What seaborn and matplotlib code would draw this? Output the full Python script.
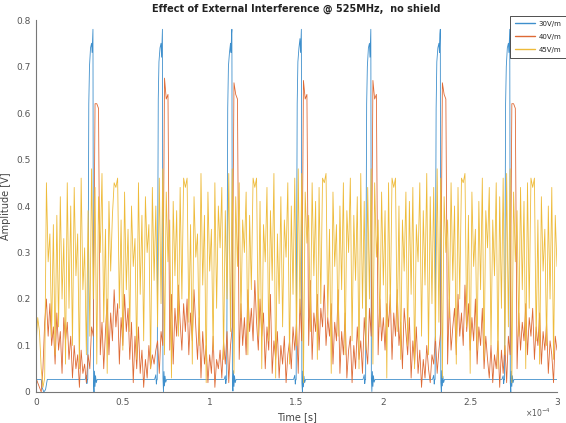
import numpy as np
import pandas as pd
import matplotlib
matplotlib.use("Agg")
import matplotlib.pyplot as plt
import seaborn as sns

# time in units of 1e-4 s
t_grid = np.linspace(0, 3, 301)

# 45 V/m trace
amp_45 = [
    0.10, 0.16, 0.13, 0.05, 0.01, 0.03, 0.45, 0.28, 0.34, 0.12,
    0.36, 0.08, 0.38, 0.14, 0.42, 0.20, 0.33, 0.06, 0.45, 0.18,
    0.40, 0.10, 0.44, 0.25, 0.34, 0.05, 0.46, 0.22, 0.31, 0.08,
    0.39, 0.12, 0.48, 0.20, 0.44, 0.06, 0.42, 0.30, 0.47, 0.15,
    0.35, 0.04, 0.41, 0.26, 0.38, 0.45, 0.44, 0.46, 0.18, 0.37,
    0.09, 0.43, 0.22, 0.35, 0.13, 0.40, 0.27, 0.33, 0.07, 0.45,
    0.21, 0.38, 0.11, 0.42, 0.30, 0.36, 0.05, 0.44, 0.24, 0.40,
    0.14, 0.46, 0.19, 0.48, 0.08, 0.43, 0.28, 0.37, 0.03, 0.41,
    0.25, 0.39, 0.12, 0.44, 0.20, 0.46, 0.44, 0.46, 0.15, 0.36,
    0.06, 0.42, 0.29, 0.34, 0.10, 0.47, 0.23, 0.38, 0.02, 0.43,
    0.26, 0.35, 0.09, 0.45, 0.18, 0.40, 0.31, 0.44, 0.07, 0.39,
    0.20, 0.47, 0.13, 0.48, 0.04, 0.42, 0.27, 0.45, 0.16, 0.37,
    0.30, 0.43, 0.08, 0.38, 0.22, 0.46, 0.44, 0.46, 0.12, 0.41,
    0.05, 0.36, 0.28, 0.44, 0.11, 0.39, 0.24, 0.47, 0.03, 0.34,
    0.19, 0.42, 0.14, 0.37, 0.29, 0.45, 0.06, 0.40, 0.21, 0.46,
    0.10, 0.48, 0.17, 0.47, 0.02, 0.43, 0.32, 0.38, 0.13, 0.45,
    0.25, 0.41, 0.07, 0.44, 0.19, 0.46, 0.45, 0.47, 0.16, 0.35,
    0.04, 0.43, 0.27, 0.36, 0.12, 0.40, 0.22, 0.45, 0.08, 0.39,
    0.30, 0.46, 0.11, 0.38, 0.24, 0.42, 0.05, 0.47, 0.18, 0.41,
    0.09, 0.44, 0.20, 0.48, 0.06, 0.45, 0.29, 0.37, 0.14, 0.43,
    0.23, 0.39, 0.03, 0.45, 0.17, 0.46, 0.44, 0.46, 0.13, 0.40,
    0.07, 0.37, 0.26, 0.43, 0.10, 0.41, 0.21, 0.44, 0.05, 0.36,
    0.28, 0.45, 0.12, 0.39, 0.23, 0.47, 0.08, 0.42, 0.19, 0.44,
    0.11, 0.48, 0.15, 0.46, 0.03, 0.42, 0.30, 0.37, 0.16, 0.45,
    0.24, 0.40, 0.06, 0.44, 0.20, 0.46, 0.45, 0.47, 0.14, 0.38,
    0.04, 0.43, 0.27, 0.35, 0.09, 0.41, 0.22, 0.46, 0.07, 0.39,
    0.31, 0.44, 0.10, 0.37, 0.25, 0.45, 0.05, 0.42, 0.18, 0.46,
    0.08, 0.47, 0.14, 0.48, 0.02, 0.43, 0.28, 0.39, 0.12, 0.44,
    0.22, 0.41, 0.05, 0.45, 0.18, 0.46, 0.44, 0.46, 0.11, 0.37,
    0.06, 0.42, 0.26, 0.35, 0.10, 0.40, 0.20, 0.44, 0.07, 0.38,
    0.27,
]

# 40 V/m trace
amp_40 = [
    0.03, 0.02, 0.01, 0.00, 0.05, 0.15, 0.20, 0.12, 0.19, 0.10,
    0.14, 0.06, 0.17, 0.09, 0.13, 0.04, 0.16, 0.11, 0.15, 0.07,
    0.12, 0.03, 0.10, 0.05, 0.08, 0.01, 0.09, 0.04, 0.06, 0.02,
    0.08, 0.05, 0.14, 0.12, 0.62, 0.62, 0.61, 0.08, 0.15, 0.05,
    0.13, 0.20, 0.08, 0.17, 0.11, 0.22, 0.14, 0.19, 0.06, 0.16,
    0.10, 0.21, 0.13, 0.18, 0.07, 0.15, 0.02, 0.12, 0.05, 0.14,
    0.04, 0.09, 0.01, 0.07, 0.03, 0.10, 0.05, 0.08, 0.06, 0.09,
    0.11, 0.04, 0.13, 0.10, 0.675, 0.63, 0.64, 0.09, 0.21, 0.06,
    0.18, 0.12, 0.23, 0.15, 0.09, 0.19, 0.13, 0.20, 0.08, 0.17,
    0.11, 0.22, 0.14, 0.07, 0.16, 0.03, 0.13, 0.06, 0.10, 0.02,
    0.08, 0.04, 0.12, 0.01, 0.07, 0.05, 0.09, 0.03, 0.11, 0.06,
    0.13, 0.02, 0.10, 0.14, 0.665, 0.64, 0.63, 0.07, 0.19, 0.10,
    0.16, 0.08, 0.22, 0.13, 0.18, 0.11, 0.24, 0.15, 0.09, 0.20,
    0.12, 0.17, 0.05, 0.14, 0.09, 0.21, 0.04, 0.11, 0.07, 0.13,
    0.03, 0.10, 0.06, 0.12, 0.02, 0.08, 0.11, 0.05, 0.14, 0.09,
    0.15, 0.04, 0.20, 0.11, 0.67, 0.63, 0.64, 0.10, 0.24, 0.07,
    0.17, 0.13, 0.21, 0.09, 0.18, 0.14, 0.23, 0.10, 0.16, 0.12,
    0.19, 0.06, 0.15, 0.11, 0.22, 0.04, 0.13, 0.08, 0.17, 0.03,
    0.09, 0.12, 0.02, 0.10, 0.05, 0.14, 0.07, 0.11, 0.04, 0.16,
    0.10, 0.06, 0.18, 0.12, 0.67, 0.63, 0.64, 0.08, 0.20, 0.11,
    0.16, 0.09, 0.19, 0.14, 0.21, 0.07, 0.17, 0.12, 0.22, 0.10,
    0.15, 0.05, 0.18, 0.13, 0.08, 0.16, 0.03, 0.11, 0.06, 0.14,
    0.04, 0.09, 0.01, 0.07, 0.03, 0.10, 0.05, 0.02, 0.08, 0.06,
    0.12, 0.04, 0.09, 0.13, 0.665, 0.64, 0.63, 0.06, 0.20, 0.09,
    0.14, 0.18, 0.08, 0.21, 0.12, 0.17, 0.10, 0.23, 0.13, 0.19,
    0.09, 0.16, 0.11, 0.20, 0.06, 0.14, 0.10, 0.18, 0.05, 0.12,
    0.07, 0.03, 0.10, 0.02, 0.08, 0.05, 0.11, 0.01, 0.09, 0.04,
    0.10, 0.02, 0.12, 0.08, 0.62, 0.62, 0.61, 0.05, 0.17, 0.09,
    0.15, 0.11, 0.19, 0.08, 0.16, 0.12, 0.18, 0.07, 0.14, 0.10,
    0.17, 0.06, 0.13, 0.09, 0.15, 0.04, 0.11, 0.08, 0.02, 0.12,
    0.09,
]

# 30 V/m trace (own breakpoints, units of 1e-4 s)
t_30 = [
    0.000, 0.030, 0.035, 0.045, 0.055, 0.065,
    0.283, 0.290, 0.293, 0.296, 0.298, 0.301, 0.304, 0.308, 0.314, 0.320, 0.323, 0.326, 0.328, 0.331, 0.334, 0.337, 0.340, 0.343, 0.347, 0.352,
    0.683, 0.690, 0.693, 0.696, 0.698, 0.701, 0.704, 0.708, 0.714, 0.720, 0.723, 0.726, 0.728, 0.731, 0.734, 0.737, 0.740, 0.743, 0.747, 0.752,
    1.083, 1.090, 1.093, 1.096, 1.098, 1.101, 1.104, 1.108, 1.114, 1.120, 1.123, 1.126, 1.128, 1.131, 1.134, 1.137, 1.140, 1.143, 1.147, 1.152,
    1.483, 1.490, 1.493, 1.496, 1.498, 1.501, 1.504, 1.508, 1.514, 1.520, 1.523, 1.526, 1.528, 1.531, 1.534, 1.537, 1.540, 1.543, 1.547, 1.552,
    1.883, 1.890, 1.893, 1.896, 1.898, 1.901, 1.904, 1.908, 1.914, 1.920, 1.923, 1.926, 1.928, 1.931, 1.934, 1.937, 1.940, 1.943, 1.947, 1.952,
    2.283, 2.290, 2.293, 2.296, 2.298, 2.301, 2.304, 2.308, 2.314, 2.320, 2.323, 2.326, 2.328, 2.331, 2.334, 2.337, 2.340, 2.343, 2.347, 2.352,
    2.683, 2.690, 2.693, 2.696, 2.698, 2.701, 2.704, 2.708, 2.714, 2.720, 2.723, 2.726, 2.728, 2.731, 2.734, 2.737, 2.740, 2.743, 2.747, 2.752,
    3.000,
]
amp_30 = [
    0.027, 0.027, 0.010, 0.000, 0.005, 0.027,
    0.027, 0.036, 0.018, 0.027, 0.027, 0.35, 0.62, 0.70, 0.74, 0.75, 0.73, 0.76, 0.78, 0.02, 0.000, 0.045, 0.012, 0.035, 0.020, 0.027,
    0.027, 0.037, 0.017, 0.027, 0.027, 0.36, 0.63, 0.71, 0.74, 0.75, 0.72, 0.76, 0.78, 0.03, 0.000, 0.044, 0.013, 0.034, 0.021, 0.027,
    0.027, 0.035, 0.018, 0.027, 0.027, 0.34, 0.61, 0.70, 0.73, 0.75, 0.73, 0.77, 0.78, 0.02, 0.002, 0.046, 0.012, 0.035, 0.020, 0.027,
    0.027, 0.036, 0.017, 0.027, 0.027, 0.35, 0.62, 0.71, 0.74, 0.76, 0.73, 0.76, 0.78, 0.02, 0.000, 0.045, 0.011, 0.034, 0.020, 0.027,
    0.027, 0.037, 0.018, 0.027, 0.027, 0.36, 0.62, 0.70, 0.74, 0.75, 0.72, 0.76, 0.78, 0.03, 0.001, 0.044, 0.012, 0.035, 0.021, 0.027,
    0.027, 0.036, 0.017, 0.027, 0.027, 0.35, 0.61, 0.71, 0.74, 0.75, 0.73, 0.77, 0.78, 0.02, 0.000, 0.046, 0.013, 0.034, 0.020, 0.027,
    0.027, 0.035, 0.018, 0.027, 0.027, 0.34, 0.62, 0.70, 0.74, 0.75, 0.73, 0.76, 0.78, 0.02, 0.000, 0.045, 0.012, 0.035, 0.020, 0.027,
    0.027,
]

labels = ["30V/m", "40V/m", "45V/m"]
colors = ["#3E8FCC", "#DE6A35", "#EEBB3A"]
x_ticks = [0, 0.5, 1, 1.5, 2, 2.5, 3]
x_tick_labels = ["0", "0.5", "1", "1.5", "2", "2.5", "3"]
y_ticks = [0, 0.1, 0.2, 0.3, 0.4, 0.5, 0.6, 0.7, 0.8]
y_tick_labels = ["0", "0.1", "0.2", "0.3", "0.4", "0.5", "0.6", "0.7", "0.8"]

sns.set_style("white")
plt.rcParams['font.family'] = ['DejaVu Sans']

fig = plt.figure(figsize=(5.66, 4.23), dpi=100)
ax = fig.add_axes([0.0636, 0.0733, 0.9205, 0.8794])

sns.lineplot(x=np.array(t_30) * 1e-4, y=amp_30, ax=ax, color=colors[0], lw=0.6,
             label=labels[0], estimator=None, sort=False)
sns.lineplot(x=t_grid * 1e-4, y=amp_40, ax=ax, color=colors[1], lw=0.6,
             label=labels[1], estimator=None, sort=False)
sns.lineplot(x=t_grid * 1e-4, y=amp_45, ax=ax, color=colors[2], lw=0.6,
             label=labels[2], estimator=None, sort=False)

ax.set_xlim(0, 3e-4)
ax.set_ylim(0, 0.8)
ax.set_xticks(np.array(x_ticks) * 1e-4)
ax.set_xticklabels(x_tick_labels)
ax.set_yticks(y_ticks)
ax.set_yticklabels(y_tick_labels)
ax.text(0.988, -0.04, r"$\times10^{-4}$", transform=ax.transAxes, ha="right",
        va="top", fontsize=5.5, color="#555555")

for s in ["top", "right"]:
    ax.spines[s].set_visible(False)
for s in ["left", "bottom"]:
    ax.spines[s].set_color("#777777")
    ax.spines[s].set_linewidth(0.8)
ax.tick_params(direction="in", length=3, width=0.6, colors="#777777",
               labelcolor="#555555", labelsize=6.5, pad=4)

ax.set_title("Effect of External Interference @ 525MHz,  no shield",
             fontsize=7, fontweight="bold", color="#222222", pad=6)
ax.set_xlabel("Time [s]", fontsize=7, color="#444444", labelpad=4)
ax.set_ylabel("Amplitude [V]", fontsize=7, color="#444444")
ax.yaxis.set_label_coords(-0.048, 0.5)

leg = ax.legend(loc="upper right", bbox_to_anchor=(1.0, 1 - 16 / 423),
                bbox_transform=fig.transFigure, fontsize=5, handlelength=3.0,
                frameon=True, fancybox=False, framealpha=1, borderpad=0.7,
                labelspacing=1.0, handletextpad=0.4, borderaxespad=0.0)
leg.get_frame().set_edgecolor("#333333")
leg.get_frame().set_linewidth(0.6)
for h in leg.get_lines():
    h.set_linewidth(1.0)

fig.savefig("out.png", dpi=100)
